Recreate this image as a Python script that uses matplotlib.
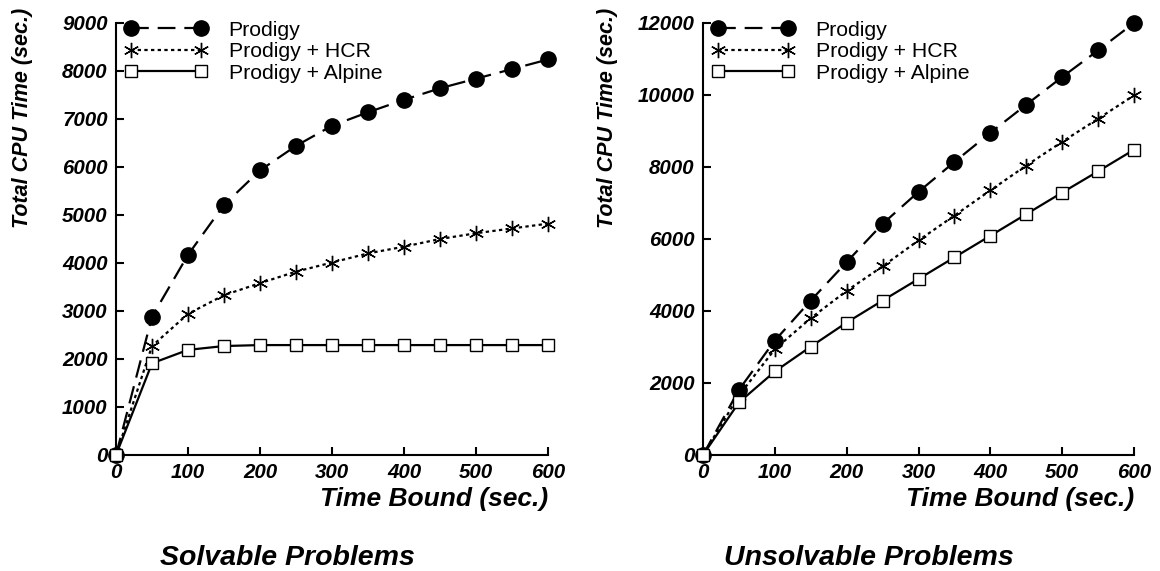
import numpy as np
import matplotlib
matplotlib.use("Agg")
import matplotlib.pyplot as plt

plt.rcParams['font.family'] = ['Liberation Sans', 'DejaVu Sans']

time_bound = [0, 50, 100, 150, 200, 250, 300, 350, 400, 450, 500, 550, 600]

# Solvable problems
solv_prodigy = [0, 2880, 4170, 5210, 5930, 6440, 6860, 7140, 7400, 7640, 7840, 8040, 8240]
solv_hcr = [0, 2270, 2940, 3330, 3580, 3820, 4010, 4200, 4340, 4500, 4620, 4720, 4820]
solv_alpine = [0, 1910, 2190, 2270, 2290, 2290, 2290, 2290, 2290, 2290, 2290, 2290, 2290]

# Unsolvable problems
unsolv_prodigy = [0, 1810, 3180, 4290, 5360, 6420, 7310, 8140, 8950, 9730, 10500, 11240, 12000]
unsolv_hcr = [0, 1650, 2940, 3800, 4560, 5240, 5960, 6650, 7350, 8040, 8700, 9340, 9990]
unsolv_alpine = [0, 1460, 2320, 3010, 3680, 4290, 4890, 5490, 6090, 6690, 7290, 7880, 8480]

labels = ["Prodigy", "Prodigy + HCR", "Prodigy + Alpine"]

W, H = 1160, 571
fig = plt.figure(figsize=(W / 100, H / 100), dpi=100)


def px_axes(x0, x1, y_top, y_bot):
    return fig.add_axes([x0 / W, 1 - y_bot / H, (x1 - x0) / W, (y_bot - y_top) / H])


def draw_panel(ax, series, ymax, ystep, title, title_x, ylabel_x):
    p, h, a = series
    ax.plot(time_bound, p, color="black", lw=1.6, dashes=(8, 4), marker="o",
            ms=11, mfc="black", mec="black", label=labels[0], clip_on=False, zorder=3)
    ax.plot(time_bound, h, color="black", lw=1.6, dashes=(1.5, 1.5), marker=(6, 2, 0),
            ms=11, mew=1.0, label=labels[1], clip_on=False, zorder=3)
    ax.plot(time_bound, a, color="black", lw=1.6, marker="s", ms=8, mfc="white",
            mec="black", mew=1.0, label=labels[2], clip_on=False, zorder=3)

    ax.set_xlim(0, 600)
    ax.set_ylim(0, ymax)
    ax.set_xticks(np.arange(0, 601, 100))
    ax.set_yticks(np.arange(0, ymax + 1, ystep))
    for s in ["top", "right"]:
        ax.spines[s].set_visible(False)
    for s in ["left", "bottom"]:
        ax.spines[s].set_linewidth(1.5)
    ax.tick_params(direction="in", length=6, width=1.5, pad=6)
    for t in ax.get_xticklabels() + ax.get_yticklabels():
        t.set_fontsize(14.8)
        t.set_fontweight("bold")
        t.set_fontstyle("italic")

    ax.set_xlabel("Time Bound (sec.)", fontsize=19, fontweight="bold",
                  fontstyle="italic", ha="right", va="top")
    ax.xaxis.set_label_coords(1.0, -0.075)

    ax.legend(loc="upper left", frameon=False, fontsize=15.3, numpoints=2,
              handlelength=3.9, handletextpad=1.0, labelspacing=0.12,
              borderaxespad=0.0, bbox_to_anchor=(0.0, 1.025))

    fig.text(ylabel_x / W, 1 - 8 / H, "Total CPU Time (sec.)", rotation=90,
             ha="center", va="top", fontsize=15.5, fontweight="bold", fontstyle="italic")
    fig.text(title_x / W, 1 - 565 / H, title, ha="center", va="baseline",
             fontsize=20.5, fontweight="bold", fontstyle="italic")


ax1 = px_axes(116, 548, 23, 455)
draw_panel(ax1, (solv_prodigy, solv_hcr, solv_alpine), 9000, 1000,
           "Solvable Problems", 287, 23)

ax2 = px_axes(703, 1134, 23, 455)
draw_panel(ax2, (unsolv_prodigy, unsolv_hcr, unsolv_alpine), 12000, 2000,
           "Unsolvable Problems", 869, 608)

fig.savefig("out.png", dpi=100)
